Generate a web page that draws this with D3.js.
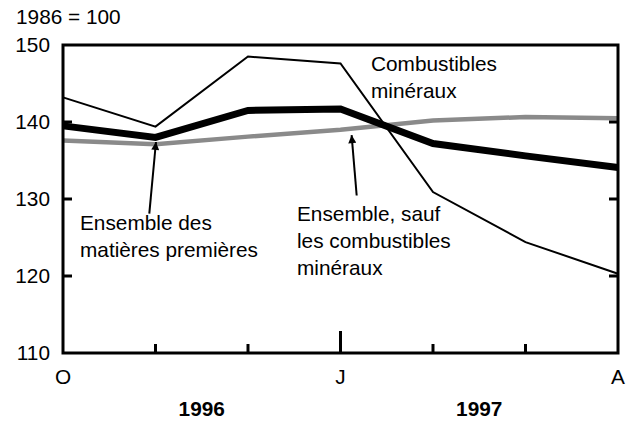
<!DOCTYPE html>
<html>
<head>
<meta charset="utf-8">
<script src="https://cdn.jsdelivr.net/npm/d3@7"></script>
<style>
  body { margin: 0; background: #fff; }
  text { font-family: "Liberation Sans", Arial, sans-serif; font-size: 20.8px; fill: #000; }
</style>
</head>
<body>
<svg id="chart" width="642" height="421"></svg>
<script>
const months = ["O", "N", "D", "J", "F", "M", "A"];
const monthLabels = ["O", "", "", "J", "", "", "A"];
const yTicks = [110, 120, 130, 140, 150];
const years = [{label: "1996", at: 1.5}, {label: "1997", at: 4.5}];

// indices 1986 = 100
const combustibles = [143.2, 139.4, 148.5, 147.6, 130.9, 124.4, 120.3];
const ensemble = [139.5, 138.0, 141.5, 141.7, 137.2, 135.6, 134.1];
const saufCombustibles = [137.6, 137.1, 138.1, 139.0, 140.2, 140.65, 140.5];

const svg = d3.select("#chart");
const m = {left: 63, right: 24, top: 45, bottom: 68};
const W = 642, H = 421;

const x = d3.scalePoint().domain(d3.range(months.length)).range([m.left, W - m.right]);
const xi = d3.scaleLinear().domain([0, months.length - 1]).range([m.left, W - m.right]);
const y = d3.scaleLinear().domain([110, 150]).range([H - m.bottom, m.top]);

const line = d3.line().x((d, i) => x(i)).y(d => y(d));

// lines, gray under black
const series = [
  {data: saufCombustibles, color: "#8a8a8a", width: 4.5},
  {data: ensemble, color: "#000", width: 7},
  {data: combustibles, color: "#000", width: 2}
];
svg.selectAll("path.serie")
  .data(series)
  .join("path")
  .attr("class", "serie")
  .attr("d", d => line(d.data))
  .attr("fill", "none")
  .attr("stroke", d => d.color)
  .attr("stroke-width", d => d.width)
  .attr("stroke-linejoin", "miter");

// frame
svg.append("rect")
  .attr("x", m.left).attr("y", m.top)
  .attr("width", W - m.left - m.right).attr("height", H - m.top - m.bottom)
  .attr("fill", "none").attr("stroke", "#000").attr("stroke-width", 3);

// y ticks inside on both sides
const inner = yTicks.filter(v => v > 110 && v < 150);
svg.selectAll("line.yl").data(inner).join("line")
  .attr("x1", m.left).attr("x2", m.left + 9)
  .attr("y1", d => y(d)).attr("y2", d => y(d))
  .attr("stroke", "#000").attr("stroke-width", 3);
svg.selectAll("line.yr").data(inner).join("line")
  .attr("x1", W - m.right).attr("x2", W - m.right - 9)
  .attr("y1", d => y(d)).attr("y2", d => y(d))
  .attr("stroke", "#000").attr("stroke-width", 3);

svg.selectAll("text.yt").data(yTicks).join("text")
  .attr("x", m.left - 13).attr("y", d => y(d))
  .attr("dy", "0.36em").attr("text-anchor", "end")
  .text(d => d);

// x ticks, January taller
const xin = d3.range(1, months.length - 1);
svg.selectAll("line.xt").data(xin).join("line")
  .attr("x1", d => x(d)).attr("x2", d => x(d))
  .attr("y1", y(110)).attr("y2", d => y(110) - (months[d] === "J" ? 22 : 9))
  .attr("stroke", "#000").attr("stroke-width", 3);

svg.selectAll("text.xl").data(monthLabels).join("text")
  .attr("x", (d, i) => x(i)).attr("y", y(110) + 31)
  .attr("text-anchor", "middle")
  .text(d => d);

svg.selectAll("text.yr").data(years).join("text")
  .attr("x", d => xi(d.at)).attr("y", y(110) + 63)
  .attr("text-anchor", "middle").attr("font-weight", "bold")
  .text(d => d.label);

svg.append("text").attr("x", 16).attr("y", 24).text("1986 = 100");

// annotations
const notes = [
  {lines: ["Combustibles", "minéraux"], x: 371, y: 71},
  {lines: ["Ensemble des", "matières premières"], x: 80, y: 230},
  {lines: ["Ensemble, sauf", "les combustibles", "minéraux"], x: 297, y: 221}
];
notes.forEach(n => {
  const t = svg.append("text").attr("x", n.x).attr("y", n.y);
  n.lines.forEach((l, i) => t.append("tspan").attr("x", n.x).attr("dy", i ? 27 : 0).text(l));
});

const arrows = [
  {from: [0.933, 128.1], to: [1.005, 137.4]},
  {from: [3.175, 130.45], to: [3.12, 138.3]}
];
svg.append("defs").append("marker")
  .attr("id", "ah").attr("viewBox", "0 0 10 10")
  .attr("refX", 10).attr("refY", 5)
  .attr("markerWidth", 10).attr("markerHeight", 8)
  .attr("markerUnits", "userSpaceOnUse")
  .attr("orient", "auto")
  .append("path").attr("d", "M0,0L10,5L0,10z").attr("fill", "#000");
svg.selectAll("line.arr").data(arrows).join("line")
  .attr("x1", d => xi(d.from[0])).attr("y1", d => y(d.from[1]))
  .attr("x2", d => xi(d.to[0])).attr("y2", d => y(d.to[1]))
  .attr("stroke", "#000").attr("stroke-width", 2)
  .attr("marker-end", "url(#ah)");
</script>
</body>
</html>
